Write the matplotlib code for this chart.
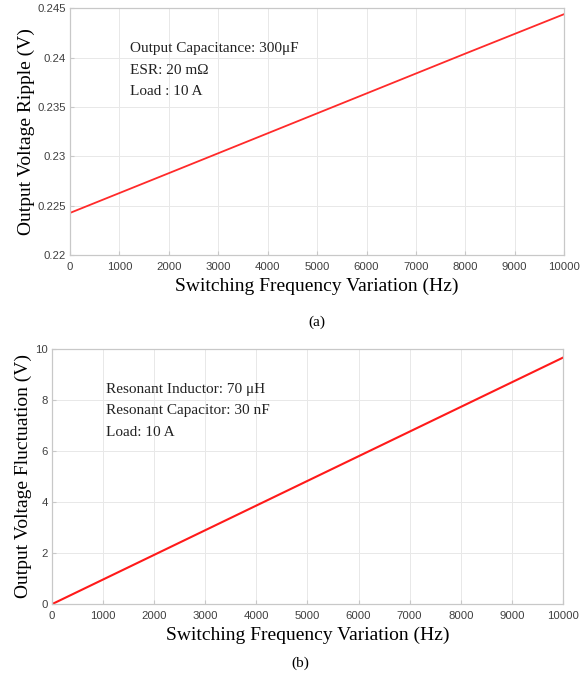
import numpy as np
import matplotlib
import matplotlib.pyplot as plt

matplotlib.use("Agg")

# ── data ──────────────────────────────────────────────────────
freq_a = [0, 2000, 4000, 6000, 8000, 10000]
ripple_a = [0.22425, 0.22828, 0.23232, 0.23636, 0.24040, 0.24440]

freq_b = [0, 2000, 4000, 6000, 8000, 10000]
fluct_b = [0.0, 1.93, 3.86, 5.79, 7.72, 9.65]

xticks = [0, 1000, 2000, 3000, 4000, 5000, 6000, 7000, 8000, 9000, 10000]
yticks_a = [0.22, 0.225, 0.23, 0.235, 0.24, 0.245]
yticks_a_labels = ["0.22", "0.225", "0.23", "0.235", "0.24", "0.245"]
yticks_b = [0, 2, 4, 6, 8, 10]

notes_a = ["Output Capacitance: 300\u03bcF", "ESR: 20 m\u03a9", "Load : 10 A"]
notes_b = ["Resonant Inductor: 70 \u03bcH", "Resonant Capacitor: 30 nF", "Load: 10 A"]

SERIF = "Liberation Serif"
SANS = "Liberation Sans"
GRID = "#e8e8e8"
SPINE = "#c8c8c8"
TICKC = "#404040"


def style_axes(ax, yticks, ylabels, ylim, ylabel):
    ax.set_xlim(0, 10000)
    ax.set_ylim(*ylim)
    ax.set_xticks(xticks)
    ax.set_xticklabels([str(t) for t in xticks], fontfamily=SANS, fontsize=8.2, color=TICKC)
    ax.set_yticks(yticks)
    ax.set_yticklabels(ylabels, fontfamily=SANS, fontsize=8.2, color=TICKC)
    ax.tick_params(direction="in", length=3, color=SPINE, pad=3)
    ax.tick_params(axis="x", pad=5)
    ax.grid(True, color=GRID, lw=0.7)
    ax.set_axisbelow(True)
    for s in ax.spines.values():
        s.set_color(SPINE)
        s.set_linewidth(0.9)
    ax.set_xlabel("Switching Frequency Variation (Hz)", fontfamily=SERIF, fontsize=14, labelpad=4)
    ax.set_ylabel(ylabel, fontfamily=SERIF, fontsize=14, labelpad=2)


def notes(ax, lines, x, ys):
    for txt, y in zip(lines, ys):
        ax.text(x, y, txt, transform=ax.transAxes, va="baseline", ha="left",
                fontfamily=SERIF, fontsize=11, color="#222222")


fig = plt.figure(figsize=(5.84, 6.85), dpi=100)

# ── (a) output voltage ripple ─────────────────────────────────
ax1 = fig.add_axes([0.120, 0.628, 0.846, 0.360])
ax1.plot(freq_a, ripple_a, color="#ff2a2a", lw=1.3)
style_axes(ax1, yticks_a, yticks_a_labels, (0.22, 0.245), "Output Voltage Ripple (V)")
notes(ax1, notes_a, 0.121, [0.822, 0.733, 0.648])
fig.text(0.543, 0.529, "(a)", ha="center", va="center", fontfamily=SERIF, fontsize=11)

# ── (b) output voltage fluctuation ────────────────────────────
ax2 = fig.add_axes([0.089, 0.118, 0.875, 0.373])
ax2.plot(freq_b, fluct_b, color="#ff1a1a", lw=1.5)
style_axes(ax2, yticks_b, [str(t) for t in yticks_b], (0, 10), "Output Voltage Fluctuation (V)")
notes(ax2, notes_b, 0.106, [0.827, 0.745, 0.659])
fig.text(0.514, 0.032, "(b)", ha="center", va="center", fontfamily=SERIF, fontsize=11)

fig.savefig("out.png", dpi=100)
